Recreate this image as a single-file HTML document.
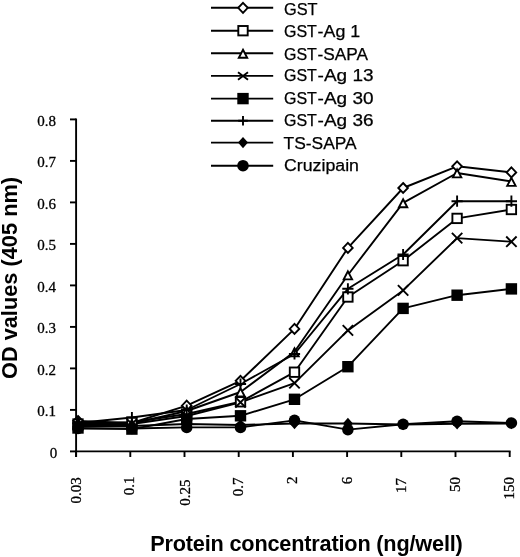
<!DOCTYPE html><html><head><meta charset="utf-8"><style>html,body{margin:0;padding:0;background:#fff;}svg{display:block;will-change:transform}</style></head><body>
<svg width="520" height="557" viewBox="0 0 520 557">
<g stroke="#000" stroke-width="1.9" fill="none">
<path d="M76.1 118.5L76.1 457"/>
<path d="M75 451.4L510.6 451.4"/>
<path d="M70 451.4L76 451.4"/>
<path d="M70 409.9L76 409.9"/>
<path d="M70 368.4L76 368.4"/>
<path d="M70 326.9L76 326.9"/>
<path d="M70 285.4L76 285.4"/>
<path d="M70 243.9L76 243.9"/>
<path d="M70 202.4L76 202.4"/>
<path d="M70 160.9L76 160.9"/>
<path d="M70 119.4L76 119.4"/>
<path d="M76.1 451.4L76.1 457"/>
<path d="M130.3 451.4L130.3 457"/>
<path d="M184.5 451.4L184.5 457"/>
<path d="M238.7 451.4L238.7 457"/>
<path d="M292.9 451.4L292.9 457"/>
<path d="M347.1 451.4L347.1 457"/>
<path d="M401.3 451.4L401.3 457"/>
<path d="M455.5 451.4L455.5 457"/>
<path d="M509.7 451.4L509.7 457"/>
</g>
<g font-family="Liberation Serif" font-size="15" text-anchor="end" fill="#000" stroke="#000" stroke-width="0.3">
<text x="57.2" y="457.7">0</text>
<text x="55.9" y="416.2">0.1</text>
<text x="55.9" y="374.7">0.2</text>
<text x="55.9" y="333.2">0.3</text>
<text x="55.9" y="291.7">0.4</text>
<text x="55.9" y="250.2">0.5</text>
<text x="55.9" y="208.7">0.6</text>
<text x="55.9" y="167.2">0.7</text>
<text x="55.9" y="125.7">0.8</text>
</g>
<g font-family="Liberation Serif" font-size="15" text-anchor="end" fill="#000" stroke="#000" stroke-width="0.3">
<text transform="translate(81.2 477.3) rotate(-90)">0.03</text>
<text transform="translate(134.2 476.5) rotate(-90)">0.1</text>
<text transform="translate(189.5 479.4) rotate(-90)">0.25</text>
<text transform="translate(243.3 477.6) rotate(-90)">0.7</text>
<text transform="translate(297.3 476.5) rotate(-90)">2</text>
<text transform="translate(351.5 476.8) rotate(-90)">6</text>
<text transform="translate(405.6 478) rotate(-90)">17</text>
<text transform="translate(459.8 477) rotate(-90)">50</text>
<text transform="translate(514 477) rotate(-90)">150</text>
</g>
<text x="150.2" y="550.8" textLength="312.6" lengthAdjust="spacing" font-family="Liberation Sans" font-weight="bold" font-size="21.7" fill="#000">Protein concentration (ng/well)</text>
<text transform="translate(17.3 379) rotate(-90)" textLength="202" lengthAdjust="spacing" font-family="Liberation Sans" font-weight="bold" font-size="21.7" fill="#000">OD values (405 nm)</text>
<g fill="none" stroke="#000" stroke-width="1.9" stroke-linejoin="round">
<polyline points="78,421 131.9,423 186.7,405.7 240.5,380.8 294.5,328.9 347.9,247.9 403.1,188 457.1,166.3 511.4,172.4"/>
<polyline points="78,424 131.9,422.3 186.7,414 240.5,401.8 294.5,372.2 347.9,297 403.1,260.7 457.1,218.4 511.4,209.5"/>
<polyline points="78,422 131.9,423.5 186.7,411 240.5,392 294.5,351.8 347.9,275 403.1,202.8 457.1,173 511.4,181.5"/>
<polyline points="78,425 131.9,424 186.7,416 240.5,402.3 294.5,383.1 347.9,330.4 403.1,290.4 457.1,238.1 511.4,241.7"/>
<polyline points="78,428 131.9,429.1 186.7,419 240.5,415.8 294.5,399.3 347.9,366.7 403.1,308.4 457.1,295.2 511.4,288.9"/>
<polyline points="78,423 131.9,417.5 186.7,410 240.5,384 294.5,354 347.9,288.8 403.1,254.5 457.1,201.2 511.4,201.2"/>
<polyline points="78,426 131.9,426 186.7,424 240.5,425 294.5,423.5 347.9,423.5 403.1,424.5 457.1,423.75 511.4,423.5"/>
<polyline points="78,428.5 131.9,428.5 186.7,427.4 240.5,427.4 294.5,420.4 347.9,429.6 403.1,424.25 457.1,421.25 511.4,423"/>
</g>
<path d="M78 416L82.8 421L78 426L73.2 421Z" fill="#fff" stroke="#000" stroke-width="1.9"/>
<path d="M131.9 418L136.7 423L131.9 428L127.1 423Z" fill="#fff" stroke="#000" stroke-width="1.9"/>
<path d="M186.7 400.7L191.5 405.7L186.7 410.7L181.9 405.7Z" fill="#fff" stroke="#000" stroke-width="1.9"/>
<path d="M240.5 375.8L245.3 380.8L240.5 385.8L235.7 380.8Z" fill="#fff" stroke="#000" stroke-width="1.9"/>
<path d="M294.5 323.9L299.3 328.9L294.5 333.9L289.7 328.9Z" fill="#fff" stroke="#000" stroke-width="1.9"/>
<path d="M347.9 242.9L352.7 247.9L347.9 252.9L343.1 247.9Z" fill="#fff" stroke="#000" stroke-width="1.9"/>
<path d="M403.1 183L407.9 188L403.1 193L398.3 188Z" fill="#fff" stroke="#000" stroke-width="1.9"/>
<path d="M457.1 161.3L461.9 166.3L457.1 171.3L452.3 166.3Z" fill="#fff" stroke="#000" stroke-width="1.9"/>
<path d="M511.4 167.4L516.2 172.4L511.4 177.4L506.6 172.4Z" fill="#fff" stroke="#000" stroke-width="1.9"/>
<rect x="73.3" y="419.3" width="9.4" height="9.4" fill="#fff" stroke="#000" stroke-width="1.9"/>
<rect x="127.2" y="417.6" width="9.4" height="9.4" fill="#fff" stroke="#000" stroke-width="1.9"/>
<rect x="182" y="409.3" width="9.4" height="9.4" fill="#fff" stroke="#000" stroke-width="1.9"/>
<rect x="235.8" y="397.1" width="9.4" height="9.4" fill="#fff" stroke="#000" stroke-width="1.9"/>
<rect x="289.8" y="367.5" width="9.4" height="9.4" fill="#fff" stroke="#000" stroke-width="1.9"/>
<rect x="343.2" y="292.3" width="9.4" height="9.4" fill="#fff" stroke="#000" stroke-width="1.9"/>
<rect x="398.4" y="256" width="9.4" height="9.4" fill="#fff" stroke="#000" stroke-width="1.9"/>
<rect x="452.4" y="213.7" width="9.4" height="9.4" fill="#fff" stroke="#000" stroke-width="1.9"/>
<rect x="506.7" y="204.8" width="9.4" height="9.4" fill="#fff" stroke="#000" stroke-width="1.9"/>
<path d="M78 418.4L82.2 426.4L73.8 426.4Z" fill="#fff" stroke="#000" stroke-width="1.9"/>
<path d="M131.9 419.9L136.1 427.9L127.7 427.9Z" fill="#fff" stroke="#000" stroke-width="1.9"/>
<path d="M186.7 407.4L190.9 415.4L182.5 415.4Z" fill="#fff" stroke="#000" stroke-width="1.9"/>
<path d="M240.5 388.4L244.7 396.4L236.3 396.4Z" fill="#fff" stroke="#000" stroke-width="1.9"/>
<path d="M294.5 348.2L298.7 356.2L290.3 356.2Z" fill="#fff" stroke="#000" stroke-width="1.9"/>
<path d="M347.9 271.4L352.1 279.4L343.7 279.4Z" fill="#fff" stroke="#000" stroke-width="1.9"/>
<path d="M403.1 199.2L407.3 207.2L398.9 207.2Z" fill="#fff" stroke="#000" stroke-width="1.9"/>
<path d="M457.1 169.4L461.3 177.4L452.9 177.4Z" fill="#fff" stroke="#000" stroke-width="1.9"/>
<path d="M511.4 177.9L515.6 185.9L507.2 185.9Z" fill="#fff" stroke="#000" stroke-width="1.9"/>
<path d="M72.8 419.8L83.2 430.2M72.8 430.2L83.2 419.8" stroke="#000" stroke-width="1.9" fill="none"/>
<path d="M126.7 418.8L137.1 429.2M126.7 429.2L137.1 418.8" stroke="#000" stroke-width="1.9" fill="none"/>
<path d="M181.5 410.8L191.9 421.2M181.5 421.2L191.9 410.8" stroke="#000" stroke-width="1.9" fill="none"/>
<path d="M235.3 397.1L245.7 407.5M235.3 407.5L245.7 397.1" stroke="#000" stroke-width="1.9" fill="none"/>
<path d="M289.3 377.9L299.7 388.3M289.3 388.3L299.7 377.9" stroke="#000" stroke-width="1.9" fill="none"/>
<path d="M342.7 325.2L353.1 335.6M342.7 335.6L353.1 325.2" stroke="#000" stroke-width="1.9" fill="none"/>
<path d="M397.9 285.2L408.3 295.6M397.9 295.6L408.3 285.2" stroke="#000" stroke-width="1.9" fill="none"/>
<path d="M451.9 232.9L462.3 243.3M451.9 243.3L462.3 232.9" stroke="#000" stroke-width="1.9" fill="none"/>
<path d="M506.2 236.5L516.6 246.9M506.2 246.9L516.6 236.5" stroke="#000" stroke-width="1.9" fill="none"/>
<rect x="72.3" y="422.3" width="11.4" height="11.4" fill="#000"/>
<rect x="126.2" y="423.4" width="11.4" height="11.4" fill="#000"/>
<rect x="181" y="413.3" width="11.4" height="11.4" fill="#000"/>
<rect x="234.8" y="410.1" width="11.4" height="11.4" fill="#000"/>
<rect x="288.8" y="393.6" width="11.4" height="11.4" fill="#000"/>
<rect x="342.2" y="361" width="11.4" height="11.4" fill="#000"/>
<rect x="397.4" y="302.7" width="11.4" height="11.4" fill="#000"/>
<rect x="451.4" y="289.5" width="11.4" height="11.4" fill="#000"/>
<rect x="505.7" y="283.2" width="11.4" height="11.4" fill="#000"/>
<path d="M78 417.4L78 428.6M72.4 423L83.6 423" stroke="#000" stroke-width="1.9" fill="none"/>
<path d="M131.9 411.9L131.9 423.1M126.3 417.5L137.5 417.5" stroke="#000" stroke-width="1.9" fill="none"/>
<path d="M186.7 404.4L186.7 415.6M181.1 410L192.3 410" stroke="#000" stroke-width="1.9" fill="none"/>
<path d="M240.5 378.4L240.5 389.6M234.9 384L246.1 384" stroke="#000" stroke-width="1.9" fill="none"/>
<path d="M294.5 348.4L294.5 359.6M288.9 354L300.1 354" stroke="#000" stroke-width="1.9" fill="none"/>
<path d="M347.9 283.2L347.9 294.4M342.3 288.8L353.5 288.8" stroke="#000" stroke-width="1.9" fill="none"/>
<path d="M403.1 248.9L403.1 260.1M397.5 254.5L408.7 254.5" stroke="#000" stroke-width="1.9" fill="none"/>
<path d="M457.1 195.6L457.1 206.8M451.5 201.2L462.7 201.2" stroke="#000" stroke-width="1.9" fill="none"/>
<path d="M511.4 195.6L511.4 206.8M505.8 201.2L517 201.2" stroke="#000" stroke-width="1.9" fill="none"/>
<path d="M78 420.3L83 426L78 431.7L73 426Z" fill="#000"/>
<path d="M131.9 420.3L136.9 426L131.9 431.7L126.9 426Z" fill="#000"/>
<path d="M186.7 418.3L191.7 424L186.7 429.7L181.7 424Z" fill="#000"/>
<path d="M240.5 419.3L245.5 425L240.5 430.7L235.5 425Z" fill="#000"/>
<path d="M294.5 417.8L299.5 423.5L294.5 429.2L289.5 423.5Z" fill="#000"/>
<path d="M347.9 417.8L352.9 423.5L347.9 429.2L342.9 423.5Z" fill="#000"/>
<path d="M403.1 418.8L408.1 424.5L403.1 430.2L398.1 424.5Z" fill="#000"/>
<path d="M457.1 418.05L462.1 423.75L457.1 429.45L452.1 423.75Z" fill="#000"/>
<path d="M511.4 417.8L516.4 423.5L511.4 429.2L506.4 423.5Z" fill="#000"/>
<circle cx="78" cy="428.5" r="5.8" fill="#000"/>
<circle cx="131.9" cy="428.5" r="5.8" fill="#000"/>
<circle cx="186.7" cy="427.4" r="5.8" fill="#000"/>
<circle cx="240.5" cy="427.4" r="5.8" fill="#000"/>
<circle cx="294.5" cy="420.4" r="5.8" fill="#000"/>
<circle cx="347.9" cy="429.6" r="5.8" fill="#000"/>
<circle cx="403.1" cy="424.25" r="5.8" fill="#000"/>
<circle cx="457.1" cy="421.25" r="5.8" fill="#000"/>
<circle cx="511.4" cy="423" r="5.8" fill="#000"/>
<path d="M211 7.8L273.2 7.8" stroke="#000" stroke-width="1.9"/>
<path d="M243 2.8L247.8 7.8L243 12.8L238.2 7.8Z" fill="#fff" stroke="#000" stroke-width="1.9"/>
<text x="284" y="14.6" textLength="33.6" lengthAdjust="spacingAndGlyphs" font-family="Liberation Sans" font-size="16" fill="#000" stroke="#000" stroke-width="0.25">GST</text>
<path d="M211 30.7L273.2 30.7" stroke="#000" stroke-width="1.9"/>
<rect x="238.3" y="26" width="9.4" height="9.4" fill="#fff" stroke="#000" stroke-width="1.9"/>
<text x="284" y="37.25" font-family="Liberation Sans" font-size="16" fill="#000" stroke="#000" stroke-width="0.25">GST</text>
<text x="317.6" y="37.25" textLength="42.6" lengthAdjust="spacingAndGlyphs" font-family="Liberation Sans" font-size="16" fill="#000" stroke="#000" stroke-width="0.25">-Ag 1</text>
<path d="M211 53.3L273.2 53.3" stroke="#000" stroke-width="1.9"/>
<path d="M243 49.7L247.2 57.7L238.8 57.7Z" fill="#fff" stroke="#000" stroke-width="1.9"/>
<text x="284" y="59.6" font-family="Liberation Sans" font-size="16" fill="#000" stroke="#000" stroke-width="0.25">GST</text>
<text x="317.6" y="59.6" textLength="50.5" lengthAdjust="spacingAndGlyphs" font-family="Liberation Sans" font-size="16" fill="#000" stroke="#000" stroke-width="0.25">-SAPA</text>
<path d="M211 75.9L273.2 75.9" stroke="#000" stroke-width="1.9"/>
<path d="M238 72.15L248 79.65M238 79.65L248 72.15" stroke="#000" stroke-width="1.9" fill="none"/>
<text x="284" y="81.4" font-family="Liberation Sans" font-size="16" fill="#000" stroke="#000" stroke-width="0.25">GST</text>
<text x="317.6" y="81.4" textLength="55.9" lengthAdjust="spacingAndGlyphs" font-family="Liberation Sans" font-size="16" fill="#000" stroke="#000" stroke-width="0.25">-Ag 13</text>
<path d="M211 98.6L273.2 98.6" stroke="#000" stroke-width="1.9"/>
<rect x="237.3" y="92.9" width="11.4" height="11.4" fill="#000"/>
<text x="284" y="103.9" font-family="Liberation Sans" font-size="16" fill="#000" stroke="#000" stroke-width="0.25">GST</text>
<text x="317.6" y="103.9" textLength="55.9" lengthAdjust="spacingAndGlyphs" font-family="Liberation Sans" font-size="16" fill="#000" stroke="#000" stroke-width="0.25">-Ag 30</text>
<path d="M211 120.8L273.2 120.8" stroke="#000" stroke-width="1.9"/>
<path d="M243 116L243 125.6M238.2 120.8L247.8 120.8" stroke="#000" stroke-width="1.9" fill="none"/>
<text x="284" y="126.2" font-family="Liberation Sans" font-size="16" fill="#000" stroke="#000" stroke-width="0.25">GST</text>
<text x="317.6" y="126.2" textLength="55.9" lengthAdjust="spacingAndGlyphs" font-family="Liberation Sans" font-size="16" fill="#000" stroke="#000" stroke-width="0.25">-Ag 36</text>
<path d="M211 142.6L273.2 142.6" stroke="#000" stroke-width="1.9"/>
<path d="M243 136.9L248 142.6L243 148.3L238 142.6Z" fill="#000"/>
<text x="283.6" y="148.8" textLength="73.1" lengthAdjust="spacingAndGlyphs" font-family="Liberation Sans" font-size="16" fill="#000" stroke="#000" stroke-width="0.25">TS-SAPA</text>
<path d="M211 165.7L273.2 165.7" stroke="#000" stroke-width="1.9"/>
<circle cx="243" cy="165.7" r="5.8" fill="#000"/>
<text x="284" y="171.15" textLength="75" lengthAdjust="spacingAndGlyphs" font-family="Liberation Sans" font-size="16" fill="#000" stroke="#000" stroke-width="0.25">Cruzipain</text>
</svg></body></html>
